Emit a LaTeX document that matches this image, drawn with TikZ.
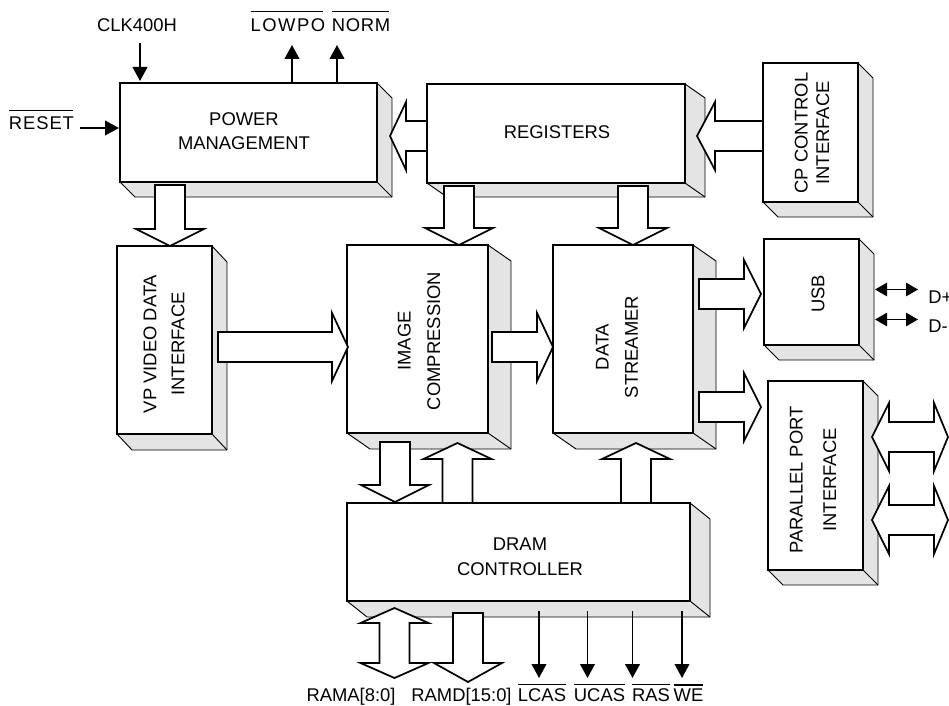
\documentclass[tikz,border=0pt]{standalone}
\usepackage{fontspec}
\setmainfont{Liberation Sans}
\usetikzlibrary{arrows.meta,fit}
\definecolor{shadowgray}{HTML}{E4E4E4}
\tikzset{
  shadeface/.style={fill=shadowgray, draw=black, line width=0.7pt, line join=round},
  frontbox/.style={draw=black, fill=white, line width=1.6pt, inner sep=0pt, outer sep=0pt},
  fat/.style={draw=black, fill=white, line width=1.3pt, line join=miter},
  sig/.style={line width=1.4pt, -{Triangle[length=10.5pt,width=11pt]}},
  dsig/.style={line width=1.4pt, {Triangle[length=9pt,width=10pt]}-{Triangle[length=9pt,width=10pt]}},
  lbl/.style={font=\fontsize{13.8}{18}\selectfont, align=center, inner sep=0pt},
}
% box with 3D shadow: name, x1, y1, x2, y2, dx, dy
\newcommand\threedbox[7]{%
  \filldraw[shadeface] (#2,#5) -- ({#2+#6},{#5+#7}) -- ({#4+#6},{#5+#7}) -- ({#4+#6},{#3+#7}) -- (#4,#3) -- cycle;
  \draw[shadeface] (#4,#5) -- ({#4+#6},{#5+#7});
  \path (#2,#3) coordinate (#1-nw) (#4,#5) coordinate (#1-se);
  \node[frontbox, fit=(#1-nw)(#1-se)] (#1) {};
}
% vertical fat arrow: cx, shaft start y, head base y, tip y
\newcommand\fatV[4]{%
  \draw[fat] ({#1-15},#2) -- ({#1-15},#3) -- ({#1-34},#3) -- (#1,#4) -- ({#1+34},#3) -- ({#1+15},#3) -- ({#1+15},#2) -- cycle;}
% horizontal fat arrow: cy, shaft start x, head base x, tip x
\newcommand\fatH[4]{%
  \draw[fat] (#2,{#1-15}) -- (#3,{#1-15}) -- (#3,{#1-34}) -- (#4,#1) -- (#3,{#1+34}) -- (#3,{#1+15}) -- (#2,{#1+15}) -- cycle;}
% double vertical: cx, tip1, base1, base2, tip2
\newcommand\fatVV[5]{%
  \draw[fat] (#1,#2) -- ({#1+34},#3) -- ({#1+15},#3) -- ({#1+15},#4) -- ({#1+34},#4) -- (#1,#5) -- ({#1-34},#4) -- ({#1-15},#4) -- ({#1-15},#3) -- ({#1-34},#3) -- cycle;}
% double horizontal: cy, tip1, base1, base2, tip2
\newcommand\fatHH[5]{%
  \draw[fat] (#2,#1) -- (#3,{#1-34}) -- (#3,{#1-15}) -- (#4,{#1-15}) -- (#4,{#1-34}) -- (#5,#1) -- (#4,{#1+34}) -- (#4,{#1+15}) -- (#3,{#1+15}) -- (#3,{#1+34}) -- cycle;}
\newcommand\ovl[2][4pt]{\vbox{\hrule height 0.8pt\kern#1\hbox{#2}}}
\begin{document}
\begin{tikzpicture}[x=0.75pt,y=-0.75pt]
\useasboundingbox (0,0) rectangle (949,706);

% boxes
\threedbox{pm}{120}{83}{377}{182}{15}{15}
\threedbox{reg}{427}{84}{685}{183}{20}{14}
\threedbox{cp}{763}{63}{858}{202}{15}{15}
\threedbox{vp}{117}{246}{212}{434}{15}{16}
\threedbox{ic}{347}{245}{488}{433}{23}{16}
\threedbox{ds}{553}{245}{693}{433}{23}{16}
\threedbox{usb}{764}{239}{859}{345}{15}{15}
\threedbox{pp}{768}{381}{863}{570}{15}{15}
\threedbox{dram}{347}{503}{690}{601}{20}{16}

% box labels
\node[lbl] (pmt) at (244,131) {POWER\\MANAGEMENT};
\node[lbl] (regt) at (557,132) {REGISTERS};
\node[lbl, rotate=90, font=\fontsize{13.8}{16.2}\selectfont] (cpt) at (812,133) {CP CONTROL\\INTERFACE};
\node[lbl, rotate=90, font=\fontsize{13.8}{21}\selectfont] (vpt) at (164,344) {VP VIDEO DATA\\INTERFACE};
\node[lbl, rotate=90, font=\fontsize{13.8}{22}\selectfont] (ict) at (419,341) {IMAGE\\COMPRESSION};
\node[lbl, rotate=90, font=\fontsize{13.8}{22}\selectfont] (dst) at (617,347) {DATA\\STREAMER};
\node[lbl, rotate=90] (usbt) at (818,294) {USB};
\node[lbl, rotate=90, font=\fontsize{13.8}{25}\selectfont] (ppt) at (813,480) {PARALLEL PORT\\INTERFACE};
\node[lbl, font=\fontsize{13.8}{19}\selectfont] (dramt) at (520,557) {DRAM\\CONTROLLER};

% fat arrows
\fatV{170}{185}{229}{246}
\fatV{459}{186}{228}{245}
\fatV{633}{186}{228}{245}
\fatH{136}{427}{406}{390}
\fatH{136}{763}{715}{697}
\fatH{347}{218}{332}{348}
\fatH{347}{492}{537}{553}
\fatH{294}{699}{744}{761}
\fatH{407}{699}{744}{761}
\fatHH{437}{872}{889}{934}{948}
\fatHH{520}{872}{889}{934}{948}
\fatV{395}{442}{485}{502}
\fatV{457.5}{503}{459}{443}
\fatV{636}{503}{459}{443}
\fatVV{394.5}{608}{623}{663}{678}
\fatV{468}{613}{663}{682}

% signal labels and arrows (top / left)
\node[lbl, anchor=base] (clk) at (137,31.7) {CLK400H};
\node[lbl, anchor=base] (lowpo) at (287,31.7) {\ovl[5pt]{\addfontfeature{LetterSpace=8}LOWPO\kern-0.1em}};
\node[lbl, anchor=base] (norm) at (360.5,31.7) {\ovl[5pt]{\addfontfeature{LetterSpace=4}NORM\kern-0.05em}};
\node[lbl, anchor=base] (reset) at (41,129.3) {\ovl{\addfontfeature{LetterSpace=5}RESET\kern-0.05em}};
\coordinate (clkS) at (140,43);
\coordinate (clkE) at (140,81);
\draw[sig] (clkS) -- (clkE);
\coordinate (lowS) at (292,83);
\coordinate (lowE) at (292,45);
\draw[sig] (lowS) -- (lowE);
\coordinate (normS) at (337,83);
\coordinate (normE) at (337,45);
\draw[sig] (normS) -- (normE);
\coordinate (resS) at (80,128);
\coordinate (resE) at (119,128);
\draw[sig] (resS) -- (resE);

% USB data lines
\coordinate (dp1) at (875,289.5);
\coordinate (dp2) at (918,289.5);
\coordinate (dm1) at (875,319.5);
\coordinate (dm2) at (918,319.5);
\draw[dsig] (dp1) -- (dp2);
\draw[dsig] (dm1) -- (dm2);
\node[lbl, anchor=base west] (dplus) at (928,303) {D+};
\node[lbl, anchor=base west] (dminus) at (928,332) {D-};

% bottom signals
\foreach \nm/\xx in {lcas/539, ucas/587.5, ras/632.5, we/682}{
  \coordinate (\nm S) at (\xx,611);
  \coordinate (\nm E) at (\xx,678);
  \draw[sig] (\nm S) -- (\nm E);
}
\node[lbl, anchor=base] (rama) at (351,701.5) {RAMA[8:0]};
\node[lbl, anchor=base] (ramd) at (461.5,701.5) {RAMD[15:0]};
\node[lbl, anchor=base] (lcas) at (542,701.5) {\ovl[2.5pt]{LCAS}};
\node[lbl, anchor=base] (ucas) at (599.5,701.5) {\ovl[2.5pt]{UCAS}};
\node[lbl, anchor=base] (ras) at (651,701.5) {\ovl[2.5pt]{RAS}};
\node[lbl, anchor=base] (we) at (688.5,701.5) {\ovl[2.5pt]{WE}};
\end{tikzpicture}
\end{document}
